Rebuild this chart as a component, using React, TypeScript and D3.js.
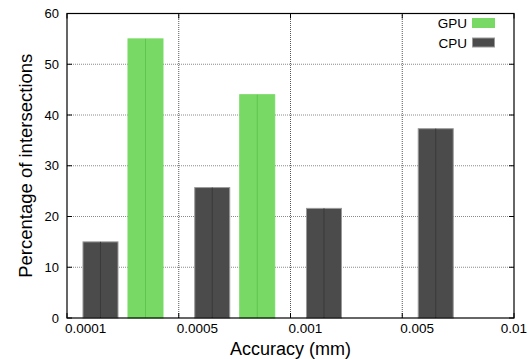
import { useEffect, useRef } from 'react'
import * as d3 from 'd3'

const accuracyLabels = ['0.0001', '0.0005', '0.001', '0.005', '0.01']
const groups = ['0.0001', '0.0005', '0.001', '0.005']
const seriesNames = ['CPU', 'GPU']
const cpuValues = [15, 25.7, 21.6, 37.3]
const gpuValues = [55, 44, 0, 0]
const yTicks = [0, 10, 20, 30, 40, 50, 60]

const colors: Record<string, string> = { GPU: '#78da65', CPU: '#4b4b4b' }
const centerColors: Record<string, string> = { GPU: '#62c450', CPU: '#3a3a3a' }
const borderColors: Record<string, string> = { GPU: '#78da65', CPU: '#9a9a9a' }

const width = 532
const height = 359
const margin = { top: 13.5, right: 18, bottom: 41, left: 67 }
const font = 'Liberation Sans, Arial, Helvetica, sans-serif'

export default function App() {
  const svgRef = useRef<SVGSVGElement>(null)

  useEffect(() => {
    if (!svgRef.current) return
    const svg = d3.select(svgRef.current)
    svg.selectAll('*').remove()

    const x0 = margin.left
    const x1 = width - margin.right
    const y0 = height - margin.bottom
    const y1 = margin.top

    const xTick = d3.scalePoint<string>().domain(accuracyLabels).range([x0, x1])
    const xGroup = d3.scaleBand<string>().domain(groups).range([x0, xTick(accuracyLabels[4])!]).padding(0)
    const gw = xGroup.bandwidth()
    const xSeries = d3.scaleBand<string>()
      .domain(seriesNames)
      .range([gw * 0.143, gw * 0.859])
      .paddingInner(0.222)
      .paddingOuter(0)
    const y = d3.scaleLinear().domain([0, 60]).range([y0, y1])

    const rows = groups.map((g, i) => ({ group: g, CPU: cpuValues[i], GPU: gpuValues[i] }))

    // grid
    const grid = svg.append('g')
    grid.selectAll('.hgrid')
      .data(yTicks.slice(1, -1))
      .enter().append('line')
      .attr('x1', x0).attr('x2', x1)
      .attr('y1', d => y(d)).attr('y2', d => y(d))
      .attr('stroke', '#8a8a8a')
      .attr('stroke-width', 1)
      .attr('stroke-dasharray', '1,1')
    grid.selectAll('.vgrid')
      .data(accuracyLabels.slice(1, -1))
      .enter().append('line')
      .attr('x1', d => xTick(d)!).attr('x2', d => xTick(d)!)
      .attr('y1', y0).attr('y2', y1)
      .attr('stroke', '#555')
      .attr('stroke-width', 1)
      .attr('stroke-dasharray', '1,1')

    // bars
    const bars = svg.append('g')
    rows.forEach(r => {
      seriesNames.forEach(s => {
        const v = (r as any)[s] as number
        if (v <= 0) return
        const bx = xGroup(r.group)! + xSeries(s)!
        const bw = xSeries.bandwidth()
        bars.append('rect')
          .attr('x', bx)
          .attr('y', y(v))
          .attr('width', bw)
          .attr('height', y0 - y(v))
          .attr('fill', colors[s])
          .attr('stroke', borderColors[s])
          .attr('stroke-width', 1)
        bars.append('line')
          .attr('x1', bx + bw / 2).attr('x2', bx + bw / 2)
          .attr('y1', y(v)).attr('y2', y0)
          .attr('stroke', centerColors[s])
          .attr('stroke-width', 1)
      })
    })

    // frame
    svg.append('rect')
      .attr('x', x0).attr('y', y1)
      .attr('width', x1 - x0).attr('height', y0 - y1)
      .attr('fill', 'none')
      .attr('stroke', '#000')
      .attr('stroke-width', 1.2)

    // ticks inward
    const ticks = svg.append('g').attr('stroke', '#000').attr('stroke-width', 1)
    yTicks.forEach(t => {
      ticks.append('line').attr('x1', x0).attr('x2', x0 + 5).attr('y1', y(t)).attr('y2', y(t))
      ticks.append('line').attr('x1', x1).attr('x2', x1 - 5).attr('y1', y(t)).attr('y2', y(t))
    })
    accuracyLabels.forEach(l => {
      ticks.append('line').attr('x1', xTick(l)!).attr('x2', xTick(l)!).attr('y1', y0).attr('y2', y0 - 5)
      ticks.append('line').attr('x1', xTick(l)!).attr('x2', xTick(l)!).attr('y1', y1).attr('y2', y1 + 5)
    })

    // tick labels
    svg.append('g')
      .selectAll('text')
      .data(yTicks)
      .enter().append('text')
      .attr('x', x0 - 8)
      .attr('y', d => y(d) + 4.5)
      .attr('text-anchor', 'end')
      .attr('font-family', font)
      .attr('font-size', 13)
      .text(d => d)

    // last label is pulled in so it stays on the page, like the original
    svg.append('g')
      .selectAll('text')
      .data(accuracyLabels)
      .enter().append('text')
      .attr('x', (d, i) => (i === accuracyLabels.length - 1 ? width - 5 : xTick(d)! - 2))
      .attr('y', y0 + 15)
      .attr('text-anchor', (d, i) => (i === accuracyLabels.length - 1 ? 'end' : 'start'))
      .attr('font-family', font)
      .attr('font-size', 13.5)
      .text(d => d)

    // axis titles
    svg.append('text')
      .attr('x', (x0 + x1) / 2)
      .attr('y', height - 4)
      .attr('text-anchor', 'middle')
      .attr('font-family', font)
      .attr('font-size', 18)
      .text('Accuracy (mm)')

    svg.append('text')
      .attr('transform', `translate(32,${(y0 + y1) / 2}) rotate(-90)`)
      .attr('text-anchor', 'middle')
      .attr('font-family', font)
      .attr('font-size', 18.5)
      .text('Percentage of intersections')

    // legend
    const legendOrder = ['GPU', 'CPU']
    const legend = svg.append('g')
    legendOrder.forEach((s, i) => {
      const ly = 23 + i * 19.5
      legend.append('text')
        .attr('x', 467)
        .attr('y', ly + 5)
        .attr('text-anchor', 'end')
        .attr('font-family', font)
        .attr('font-size', 13.5)
        .text(s)
      legend.append('rect')
        .attr('x', 472.5).attr('y', ly - 4.5)
        .attr('width', 22).attr('height', 9)
        .attr('fill', colors[s])
        .attr('stroke', borderColors[s])
        .attr('stroke-width', 1)
    })
  }, [])

  return (
    <svg
      ref={svgRef}
      width={width}
      height={height}
      style={{ position: 'absolute', left: 0, top: 0, background: '#fff' }}
    />
  )
}
